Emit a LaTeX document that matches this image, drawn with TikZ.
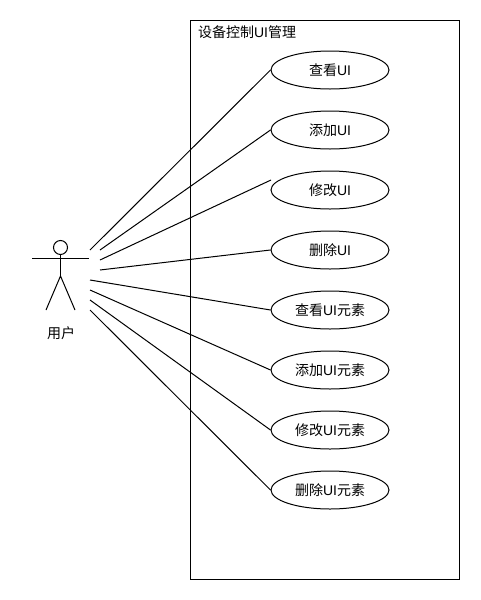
\documentclass[tikz,border=0pt]{standalone}
\usepackage{fontspec}
\setmainfont{Liberation Sans}
\newfontfamily\cjk{Noto Sans CJK SC}
\usetikzlibrary{shapes.geometric}
\tikzset{
	usecase/.style={draw,ellipse,minimum width=118pt,minimum height=38pt,inner sep=0pt,font=\fontsize{14}{16}\selectfont},
	plain/.style={inner sep=0pt,font=\fontsize{14}{16}\selectfont},
}
\newcommand{\zh}[1]{{\cjk #1}}
\begin{document}
\begin{tikzpicture}[x=1pt,y=-1pt,line width=1pt]
\useasboundingbox (0,0) rectangle (480,600);
\node[draw,minimum width=269pt,minimum height=559pt,inner sep=0pt] (frame) at (325,300) {};
\node[plain,anchor=west] (title) at (197.5,32) {\zh{设备控制}UI\zh{管理}};
% use cases
\foreach \j/\act/\tail in {1/查看/,2/添加/,3/修改/,4/删除/,5/查看/元素,6/添加/元素,7/修改/元素,8/删除/元素} {
	\pgfmathsetmacro{\y}{10+60*\j}
	\node[usecase] (uc\j) at (330,\y) {\zh{\act}UI\zh{\tail}};
}
% actor
\node[draw,circle,minimum size=14pt,inner sep=0pt] (head) at (60.5,247.5) {};
\coordinate (armL) at (32,258);
\coordinate (armR) at (89,258);
\coordinate (hip) at (60.5,276);
\coordinate (footL) at (46,310);
\coordinate (footR) at (75,310);
\draw (head.south) -- (hip);
\draw (armL) -- (armR);
\draw (footL) -- (hip) -- (footR);
\node[plain] (actor) at (61,333) {\zh{用户}};
% connectors
\coordinate (end3) at (271,180);
\foreach \j/\x/\y/\e in {1/90/250/uc1.west,2/100/250/uc2.west,3/100/260/end3,4/100/270/uc4.west,5/90/280/uc5.west,6/90/290/uc6.west,7/90/300/uc7.west,8/90/310/uc8.west} {
	\coordinate (s\j) at (\x,\y);
	\draw (s\j) -- (\e);
}
\end{tikzpicture}
\end{document}
